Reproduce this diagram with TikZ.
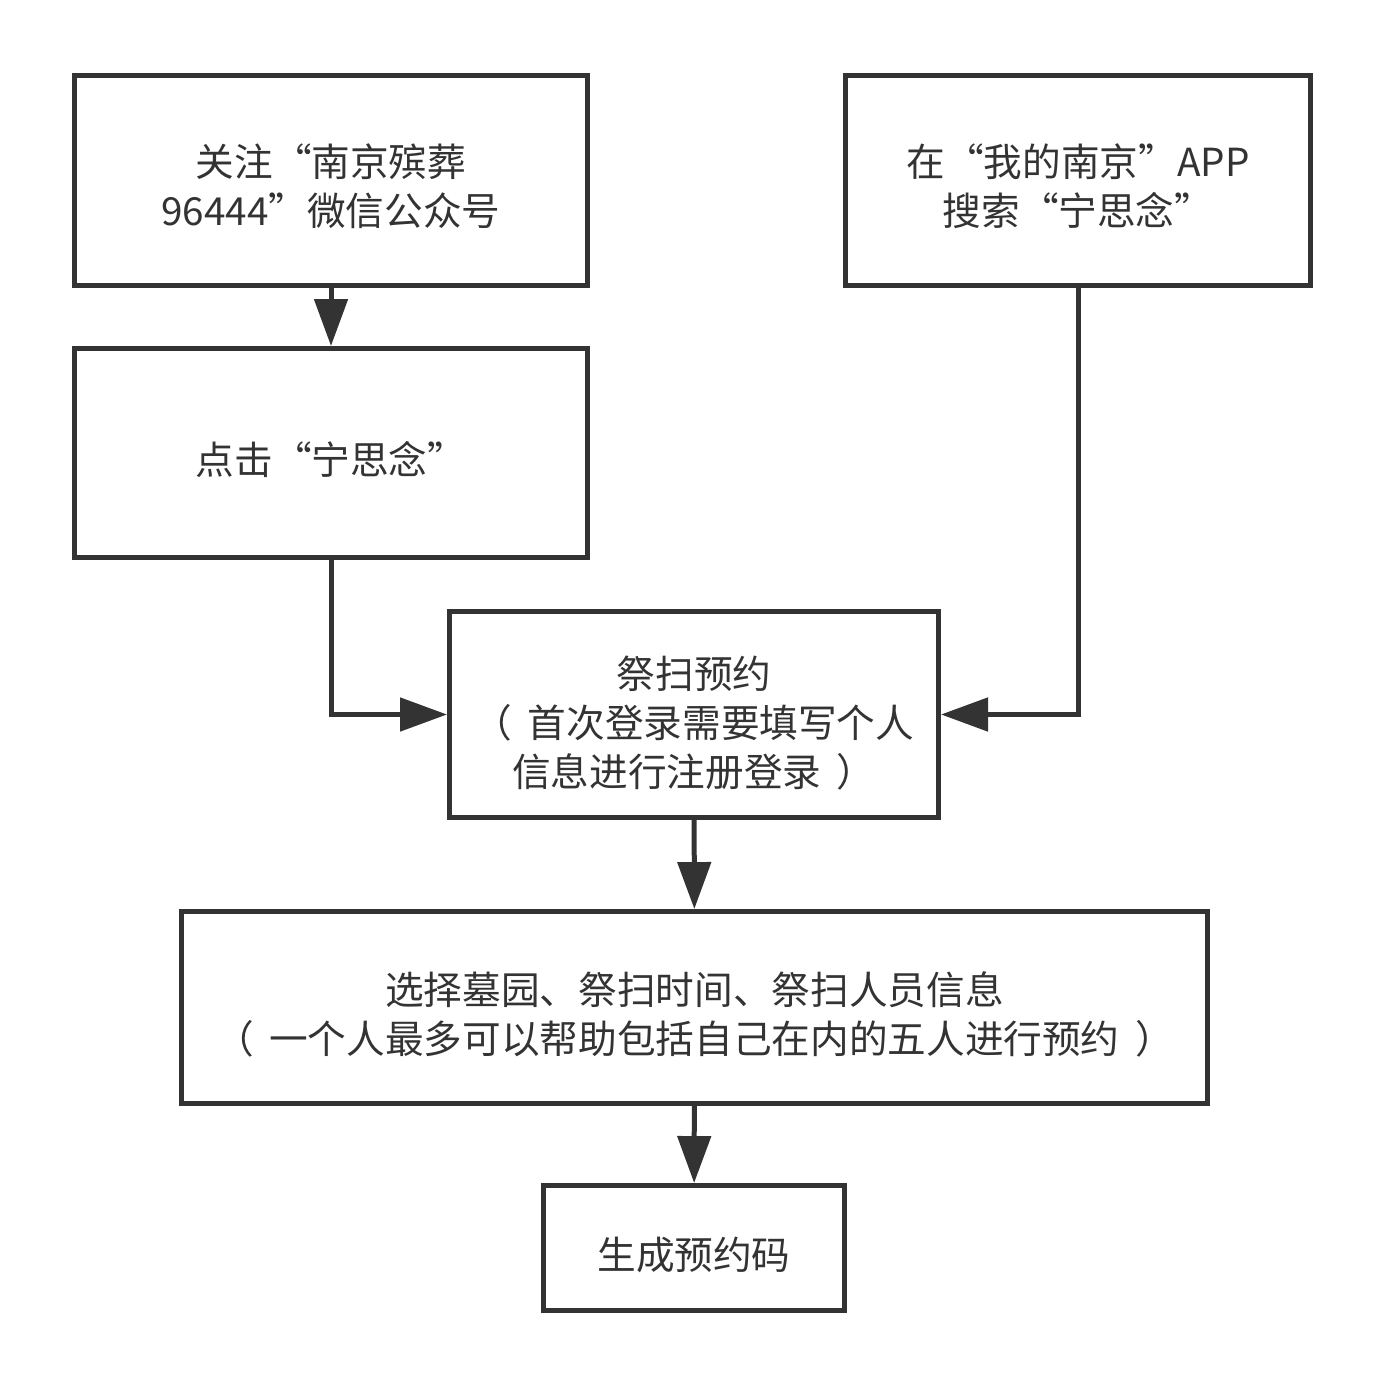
\documentclass[tikz,border=0pt]{standalone}
\usepackage{fontspec}
\setmainfont{Noto Sans CJK SC}
\usetikzlibrary{positioning,arrows.meta}
\definecolor{boxgray}{HTML}{333333}
\newcommand{\parl}{（\hspace{0.4em}}
\newcommand{\parr}{\hspace{0.4em}）}

\begin{document}
\begin{tikzpicture}[x=0.02cm,y=-0.02cm,
    box/.style={draw=boxgray, line width=0.1cm, rectangle, inner sep=0pt},
    boxtext/.style={align=center, text=boxgray, inner sep=0pt,
      font=\fontsize{22pt}{27.8pt}\selectfont, yshift=-0.13cm},
    flow/.style={draw=boxgray, line width=0.1cm, -{Triangle[length=0.94cm,width=0.66cm]}}]
        \useasboundingbox (0,0) rectangle (1386,1386);
        % upper boxes
        \node[box, minimum width=513*0.02cm, minimum height=210*0.02cm,
          label={[boxtext]center:{关注“南京殡葬\\96444”微信公众号}}] (wechat) at (331,180) {};
        \node[box, minimum width=465*0.02cm, minimum height=210*0.02cm,
          label={[boxtext]center:{在“我的南京”APP\\搜索“宁思念”}}] (app) at (1078,180) {};
        \node[box, minimum width=513*0.02cm, minimum height=209*0.02cm,
          label={[boxtext]center:{点击“宁思念”}}] (click) at (331,453) {};
        % booking
        \node[box, minimum width=489*0.02cm, minimum height=206*0.02cm,
          label={[boxtext, yshift=-0.04cm]center:{祭扫预约\\\parl 首次登录需要填写个人\\信息进行注册登录\parr}}] (booking) at (694,714.5) {};
        \node[box, minimum width=1026*0.02cm, minimum height=192*0.02cm,
          label={[boxtext]center:{选择墓园、祭扫时间、祭扫人员信息\\\parl 一个人最多可以帮助包括自己在内的五人进行预约\parr}}] (choose) at (694.5,1007.5) {};
        \node[box, minimum width=301*0.02cm, minimum height=125*0.02cm,
          label={[boxtext]center:{生成预约码}}] (code) at (694,1248) {};
        % connectors
        \draw[flow] (wechat) -- (click);
        \draw[flow] (click.south) |- (booking.west);
        \draw[flow] (app.south) |- (booking.east);
        \draw[flow] (booking) -- (choose);
        \draw[flow] (choose) -- (code);
      \end{tikzpicture}
\end{document}
